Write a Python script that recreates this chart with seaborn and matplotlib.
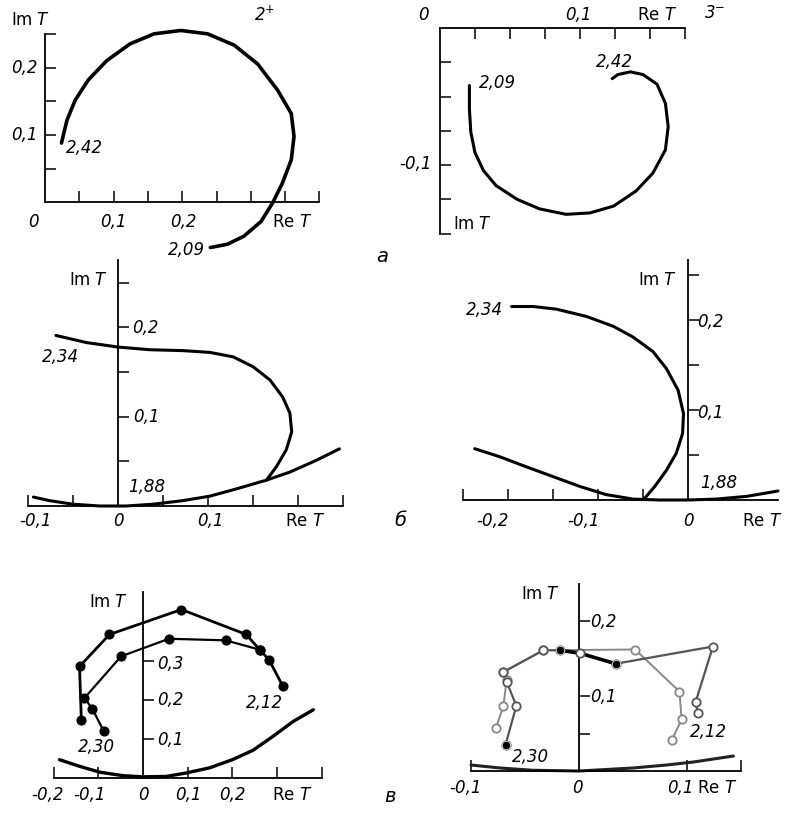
import seaborn as sns
import matplotlib.pyplot as plt
import pandas as pd

# Argand diagrams Im T vs Re T for partial waves 2+ and 3-

# panel a, 2+
re_a_2p = [0.024, 0.032, 0.044, 0.063, 0.090, 0.124, 0.159, 0.198, 0.237, 0.276, 0.310,
           0.339, 0.359, 0.363, 0.359, 0.346, 0.332, 0.315, 0.290, 0.266, 0.241]
im_a_2p = [0.088, 0.122, 0.152, 0.182, 0.211, 0.236, 0.251, 0.256, 0.251, 0.234, 0.206,
           0.167, 0.132, 0.098, 0.063, 0.028, -0.001, -0.029, -0.051, -0.063, -0.068]

# panel a, 3-
re_a_3m = [0.021, 0.021, 0.022, 0.025, 0.031, 0.040, 0.055, 0.071, 0.090, 0.107, 0.124,
           0.140, 0.152, 0.161, 0.163, 0.161, 0.155, 0.145, 0.136, 0.127, 0.123]
im_a_3m = [-0.042, -0.059, -0.076, -0.091, -0.104, -0.115, -0.125, -0.132, -0.136, -0.135, -0.130,
           -0.119, -0.106, -0.089, -0.072, -0.055, -0.041, -0.034, -0.032, -0.034, -0.037]

# panel b, left
re_b1_up = [0.165, 0.176, 0.187, 0.193, 0.191, 0.183, 0.169, 0.150, 0.128, 0.102, 0.072,
            0.035, 0.000, -0.035, -0.069]
im_b1_up = [0.029, 0.044, 0.063, 0.083, 0.104, 0.122, 0.141, 0.156, 0.167, 0.172, 0.174,
            0.175, 0.178, 0.183, 0.191]
re_b1_low = [-0.094, -0.076, -0.050, -0.020, 0.009, 0.039, 0.072, 0.102, 0.131, 0.165, 0.191, 0.220, 0.246]
im_b1_low = [0.010, 0.006, 0.002, 0.000, 0.000, 0.002, 0.006, 0.011, 0.019, 0.029, 0.038, 0.051, 0.064]

# panel b, right
re_b2_up = [-0.196, -0.172, -0.146, -0.113, -0.083, -0.061, -0.039, -0.024, -0.011, -0.005,
            -0.006, -0.013, -0.024, -0.037, -0.048]
im_b2_up = [0.215, 0.215, 0.212, 0.204, 0.193, 0.181, 0.165, 0.146, 0.122, 0.096,
            0.074, 0.052, 0.033, 0.015, 0.002]
re_b2_low = [-0.237, -0.209, -0.180, -0.150, -0.120, -0.091, -0.061, -0.031, 0.000, 0.031, 0.065, 0.100]
im_b2_low = [0.057, 0.048, 0.037, 0.026, 0.015, 0.006, 0.001, 0.000, 0.000, 0.001, 0.004, 0.010]

# panel v, left (points)
re_v1_out = [-0.138, -0.142, -0.075, 0.086, 0.231, 0.261, 0.282, 0.313]
im_v1_out = [0.150, 0.286, 0.368, 0.432, 0.368, 0.329, 0.303, 0.235]
re_v1_in = [-0.088, -0.113, -0.131, -0.049, 0.058, 0.185, 0.261]
im_v1_in = [0.120, 0.177, 0.205, 0.312, 0.357, 0.353, 0.329]
re_v1_bot = [-0.187, -0.142, -0.097, -0.045, 0.000, 0.052, 0.097, 0.149, 0.200, 0.246, 0.291, 0.336, 0.381]
im_v1_bot = [0.047, 0.030, 0.015, 0.006, 0.003, 0.004, 0.013, 0.026, 0.047, 0.071, 0.107, 0.145, 0.175]

# panel v, right (points)
re_v2_a = [-0.068, -0.058, -0.067, -0.070, -0.033, -0.018, 0.001, 0.034, 0.124, 0.108, 0.110]
im_v2_a = [0.035, 0.087, 0.119, 0.132, 0.161, 0.161, 0.157, 0.143, 0.166, 0.092, 0.077]
re_v2_b = [-0.077, -0.070, -0.067, -0.070, -0.033, 0.052, 0.093, 0.095, 0.086]
im_v2_b = [0.057, 0.087, 0.121, 0.132, 0.161, 0.162, 0.106, 0.069, 0.041]
re_v2_bot = [-0.100, -0.073, -0.043, 0.000, 0.050, 0.081, 0.106, 0.143]
im_v2_bot = [0.008, 0.004, 0.001, 0.000, 0.004, 0.008, 0.012, 0.020]

W, H = 786, 816
sns.set_style("white")
fig = plt.figure(figsize=(W / 100, H / 100), dpi=100)


def panel(x0, y0, sx, sy, xlim, ylim):
    left = (x0 + xlim[0] * sx) / W
    width = (xlim[1] - xlim[0]) * sx / W
    bottom = 1 - (y0 - ylim[0] * sy) / H
    height = (ylim[1] - ylim[0]) * sy / H
    ax = fig.add_axes([left, bottom, width, height])
    ax.set_xlim(xlim)
    ax.set_ylim(ylim)
    ax.patch.set_alpha(0)
    for s in ax.spines.values():
        s.set_visible(False)
    ax.tick_params(direction="in", length=8, width=1.1, color="black",
                   labelleft=False, labelbottom=False, labeltop=False,
                   left=True, bottom=True)
    ax.set_xlabel("")
    ax.set_ylabel("")
    return ax


def axis_lines(ax, xb, yb, top=False):
    xs = "top" if top else "bottom"
    ax.spines[xs].set_visible(True)
    ax.spines[xs].set_position(("data", 0))
    ax.spines[xs].set_bounds(*xb)
    ax.spines["left"].set_visible(True)
    ax.spines["left"].set_position(("data", 0))
    ax.spines["left"].set_bounds(*yb)
    for s in (xs, "left"):
        ax.spines[s].set_linewidth(1.3)
        ax.spines[s].set_color("black")
    if top:
        ax.xaxis.tick_top()
        ax.tick_params(axis="x", direction="in", labeltop=False)


def curve(ax, x, y, lw=2.4, color="black", marker=None, mfc="black", ms=6):
    df = pd.DataFrame({"re": x, "im": y})
    sns.lineplot(data=df, x="re", y="im", sort=False, estimator=None, ax=ax,
                 color=color, linewidth=lw, solid_capstyle="round")
    if marker:
        sns.scatterplot(data=df, x="re", y="im", ax=ax, marker="o", s=ms ** 2,
                        facecolor=mfc, edgecolor=color, linewidth=1.3, zorder=4)
    ax.set_xlabel("")
    ax.set_ylabel("")


def txt(x, y, s, ha="center", size=12, italic=True):
    fig.text(x / W, 1 - y / H, s, ha=ha, va="center", fontsize=size,
             fontstyle="italic" if italic else "normal", color="black")


# ---- a, 2+
ax1 = panel(45, 202, 686, 670, (-0.03, 0.42), (-0.1, 0.27))
axis_lines(ax1, (0, 0.4), (0, 0.25))
ax1.set_xticks([0.05, 0.1, 0.15, 0.2, 0.25, 0.3, 0.35, 0.4])
ax1.set_yticks([0.05, 0.1, 0.15, 0.2, 0.25])
curve(ax1, re_a_2p, im_a_2p, lw=2.6)
txt(30, 20, r"Im $T$", italic=False)
txt(265, 15, r"2$^{+}$")
txt(38, 68, "0,2", ha="right")
txt(38, 135, "0,1", ha="right")
txt(33, 222, "0")
txt(113, 222, "0,1")
txt(183, 222, "0,2")
txt(292, 222, r"Re $T$", italic=False)
txt(66, 148, "2,42", ha="left")
txt(205, 250, "2,09", ha="right")
txt(382, 256, "а", size=14)

# ---- a, 3-
ax2 = panel(440, 28, 1400, 1370, (-0.03, 0.2), (-0.165, 0.015))
axis_lines(ax2, (0, 0.175), (-0.15, 0), top=True)
ax2.set_xticks([0.025, 0.05, 0.075, 0.1, 0.125, 0.15, 0.175])
ax2.set_yticks([-0.15, -0.125, -0.1, -0.075, -0.05, -0.025])
curve(ax2, re_a_3m, im_a_3m, lw=2.2)
txt(423, 15, "0")
txt(578, 15, "0,1")
txt(657, 15, r"Re $T$", italic=False)
txt(715, 13, r"3$^{-}$")
txt(615, 62, "2,42")
txt(498, 83, "2,09")
txt(432, 164, "-0,1", ha="right")
txt(472, 224, r"Im $T$", italic=False)

# ---- b, left
ax3 = panel(118, 506, 900, 893, (-0.12, 0.27), (-0.02, 0.28))
axis_lines(ax3, (-0.1, 0.25), (0, 0.275))
ax3.set_xticks([-0.1, -0.05, 0.05, 0.1, 0.15, 0.2, 0.25])
ax3.set_yticks([0.05, 0.1, 0.15, 0.2, 0.25])
curve(ax3, re_b1_up, im_b1_up, lw=2.2)
curve(ax3, re_b1_low, im_b1_low, lw=2.2)
txt(88, 280, r"Im $T$", italic=False)
txt(132, 328, "0,2", ha="left")
txt(60, 357, "2,34")
txt(133, 417, "0,1", ha="left")
txt(128, 487, "1,88", ha="left")
txt(35, 521, "-0,1")
txt(118, 521, "0")
txt(210, 521, "0,1")
txt(305, 521, r"Re $T$", italic=False)
txt(400, 521, "б", size=14)

# ---- b, right
ax4 = panel(688, 500, 900, 900, (-0.27, 0.12), (-0.02, 0.28))
axis_lines(ax4, (-0.25, 0.1), (0, 0.267))
ax4.set_xticks([-0.25, -0.2, -0.15, -0.1, -0.05])
ax4.set_yticks([0.05, 0.1, 0.15, 0.2, 0.25])
curve(ax4, re_b2_up, im_b2_up, lw=2.2)
curve(ax4, re_b2_low, im_b2_low, lw=2.2)
txt(657, 280, r"Im $T$", italic=False)
txt(697, 322, "0,2", ha="left")
txt(697, 413, "0,1", ha="left")
txt(503, 310, "2,34", ha="right")
txt(700, 483, "1,88", ha="left")
txt(492, 521, "-0,2")
txt(583, 521, "-0,1")
txt(688, 521, "0")
txt(762, 521, r"Re $T$", italic=False)

# ---- v, left
ax5 = panel(143, 778, 447, 390, (-0.25, 0.45), (-0.03, 0.5))
axis_lines(ax5, (-0.2, 0.4), (0, 0.477))
ax5.set_xticks([-0.2, -0.1, 0.1, 0.2, 0.3, 0.4])
ax5.set_yticks([0.1, 0.2, 0.3])
curve(ax5, re_v1_bot, im_v1_bot, lw=2.4)
curve(ax5, re_v1_out, im_v1_out, lw=2.0, marker=True)
curve(ax5, re_v1_in, im_v1_in, lw=1.6, marker=True)
txt(108, 602, r"Im $T$", italic=False)
txt(157, 664, "0,3", ha="left")
txt(157, 700, "0,2", ha="left")
txt(157, 740, "0,1", ha="left")
txt(96, 747, "2,30")
txt(265, 703, "2,12")
txt(47, 795, "-0,2")
txt(89, 795, "-0,1")
txt(143, 795, "0")
txt(188, 795, "0,1")
txt(232, 795, "0,2")
txt(292, 795, r"Re $T$", italic=False)
txt(390, 797, "в", size=14)

# ---- v, right
ax6 = panel(579, 771, 1080, 750, (-0.12, 0.17), (-0.02, 0.26))
axis_lines(ax6, (-0.1, 0.15), (0, 0.25))
ax6.set_xticks([-0.1, 0.1, 0.15])
ax6.set_yticks([0.05, 0.1, 0.2])
curve(ax6, re_v2_bot, im_v2_bot, lw=2.2, color="#222222")
curve(ax6, re_v2_b, im_v2_b, lw=1.4, color="#888888", marker=True, mfc="white", ms=6)
curve(ax6, re_v2_a, im_v2_a, lw=1.6, color="#555555", marker=True, mfc="white", ms=6)
curve(ax6, re_v2_a[5:8], im_v2_a[5:8], lw=2.6, color="black")
sns.scatterplot(x=[re_v2_a[5], re_v2_a[7], re_v2_a[0]], y=[im_v2_a[5], im_v2_a[7], im_v2_a[0]],
                ax=ax6, color="black", s=36, zorder=5)
ax6.set_xlabel("")
ax6.set_ylabel("")
txt(540, 594, r"Im $T$", italic=False)
txt(590, 622, "0,2", ha="left")
txt(590, 697, "0,1", ha="left")
txt(530, 757, "2,30")
txt(708, 732, "2,12")
txt(465, 788, "-0,1")
txt(577, 788, "0")
txt(680, 788, "0,1")
txt(717, 788, r"Re $T$", italic=False)

fig.savefig("out.png", dpi=100)
